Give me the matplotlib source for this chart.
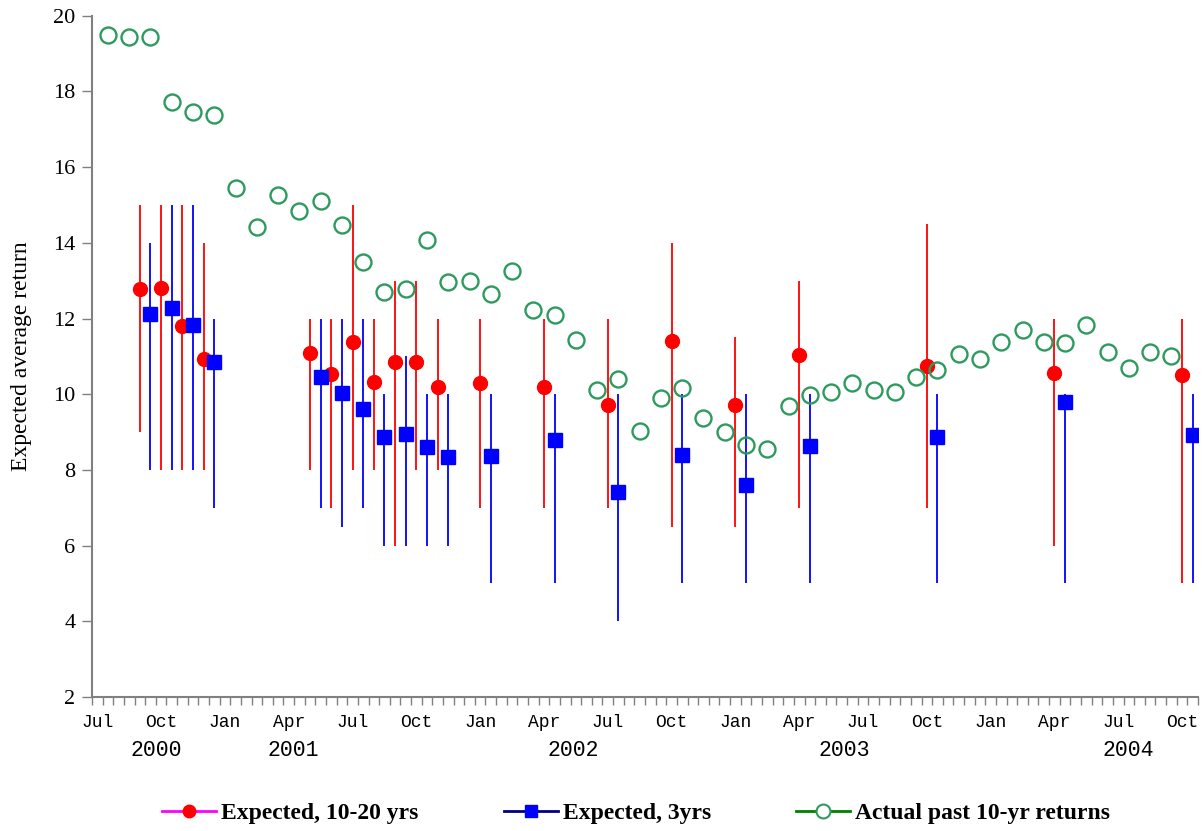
import matplotlib
matplotlib.use('Agg')
import matplotlib.pyplot as plt
from matplotlib.lines import Line2D
import numpy as np
import pandas as pd

# months run Jul 2000 .. Oct 2004, each month split in two category slots
start = pd.Period('2000-07', 'M')
end = pd.Period('2004-10', 'M')

# actual past 10-yr returns, one per month Jul 2000 .. Sep 2004
actual = [19.50, 19.45, 19.45, 17.73, 17.46, 17.37, 15.46, 14.43, 15.27, 14.85,
          15.11, 14.47, 13.48, 12.71, 12.77, 14.07, 12.96, 12.99, 12.64, 13.26,
          12.23, 12.10, 11.44, 10.10, 10.41, 9.02, 9.90, 10.17, 9.37, 8.99,
          8.67, 8.55, 9.68, 9.97, 10.06, 10.30, 10.10, 10.07, 10.46, 10.65,
          11.07, 10.92, 11.37, 11.70, 11.38, 11.36, 11.84, 11.11, 10.70, 11.11,
          11.02]

survey_months = ['2000-09', '2000-10', '2000-11', '2000-12',
                 '2001-05', '2001-06', '2001-07', '2001-08', '2001-09', '2001-10', '2001-11',
                 '2002-01', '2002-04', '2002-07', '2002-10',
                 '2003-01', '2003-04', '2003-10', '2004-04', '2004-10']

long_mid = [12.78, 12.80, 11.79, 10.92, 11.09, 10.54, 11.37, 10.32, 10.84, 10.84,
            10.18, 10.30, 10.19, 9.71, 11.40, 9.71, 11.04, 10.74, 10.55, 10.50]
long_lo = [9, 8, 8, 8, 8, 7, 8, 8, 6, 8, 8, 7, 7, 7, 6.5, 6.5, 7, 7, 6, 5]
long_hi = [15, 15, 15, 14, 12, 12, 15, 12, 13, 13, 12, 12, 12, 12, 14, 11.5, 13, 14.5, 12, 12]

short_mid = [12.11, 12.29, 11.84, 10.84, 10.45, 10.04, 9.61, 8.87, 8.95, 8.60,
             8.34, 8.36, 8.78, 7.41, 8.40, 7.59, 8.63, 8.87, 9.80, 8.93]
short_lo = [8, 8, 8, 7, 7, 6.5, 7, 6, 6, 6, 6, 5, 5, 4, 5, 5, 5, 5, 5, 5]
short_hi = [14, 15, 15, 12, 12, 12, 12, 10, 11, 10, 10, 10, 10, 10, 10, 10, 10, 10, 10, 10]

month_names = ['Jul', 'Oct', 'Jan', 'Apr']
years = ['2000', '2001', '2002', '2003', '2004']
year_pos = [5.5, 18.4, 44.8, 70.2, 96.9]   # where the year captions sit (slot units)

serif = 'Liberation Serif'
mono = 'Liberation Mono'


def slot(period_str, half):
    return 2 * (pd.Period(period_str, 'M') - start).n + half


n_months = (end - start).n + 1
x_actual = 2 * np.arange(len(actual)) + 1
x_long = np.array([slot(m, 0) for m in survey_months])
x_short = np.array([slot(m, 1) for m in survey_months])

long_mid = np.array(long_mid)
short_mid = np.array(short_mid)
long_err = [long_mid - np.array(long_lo), np.array(long_hi) - long_mid]
short_err = [short_mid - np.array(short_lo), np.array(short_hi) - short_mid]

fig = plt.figure(figsize=(12.04, 8.31), dpi=100)
ax = fig.add_axes([92 / 1204, 1 - 697 / 831, (1198 - 92) / 1204, (697 - 15.7) / 831])

ax.errorbar(x_long, long_mid, yerr=long_err, fmt='o', color='red', ms=10,
            ecolor='red', elinewidth=1.3, capsize=0, zorder=2)
ax.errorbar(x_short, short_mid, yerr=short_err, fmt='s', color='blue', ms=10,
            ecolor='blue', elinewidth=1.3, capsize=0, zorder=3)
ax.plot(x_actual, actual, 'o', ms=11.5, mfc='none', mec='#2e9a5e', mew=1.7,
        linestyle='none', zorder=4)

ax.set_xlim(-0.5, 2 * n_months - 0.5)
ax.set_ylim(2, 20)
ax.set_yticks(np.arange(2, 21, 2))
ax.set_yticklabels([str(v) for v in range(2, 21, 2)], fontfamily=serif, fontsize=16)

ax.set_xticks(np.arange(-0.5, 2 * n_months, 1))
ax.set_xticklabels([])
label_slots = np.arange(0, 2 * n_months, 6)
ax.set_xticks(label_slots, minor=True)
ax.set_xticklabels([month_names[i % 4] for i in range(len(label_slots))], minor=True,
                   fontfamily=mono, fontsize=13)
ax.tick_params(axis='x', which='major', length=6, width=1, color='#808080', direction='out')
ax.tick_params(axis='x', which='minor', length=0, pad=12)
ax.tick_params(axis='y', length=7, width=1, color='#808080', direction='out', pad=5)

for yr, xp in zip(years, year_pos):
    ax.text(xp, -0.079, yr, transform=ax.get_xaxis_transform(), ha='center', va='center',
            fontfamily=mono, fontsize=15.5)

for s in ['top', 'right']:
    ax.spines[s].set_visible(False)
for s in ['left', 'bottom']:
    ax.spines[s].set_color('#808080')
    ax.spines[s].set_linewidth(1.5)

ax.set_ylabel('Expected average return', fontfamily=serif, fontsize=17, labelpad=15)

handles = [
    Line2D([], [], color='#ff00ff', lw=2, marker='o', mfc='red', mec='red', ms=9),
    Line2D([], [], color='#000080', lw=2, marker='s', mfc='blue', mec='blue', ms=9),
    Line2D([], [], color='#008000', lw=2, marker='o', mfc='white', mec='#2e9a5e', ms=10, mew=1.5),
]
labels = ['Expected, 10-20 yrs', 'Expected, 3yrs', 'Actual past 10-yr returns']
fig.legend(handles, labels, loc='center', bbox_to_anchor=(636 / 1204, 1 - 813 / 831), ncol=3,
           frameon=False, prop={'family': serif, 'weight': 'bold', 'size': 17},
           handlelength=2.3, handletextpad=0.2, columnspacing=3.6)

fig.savefig('out.png', dpi=100)
